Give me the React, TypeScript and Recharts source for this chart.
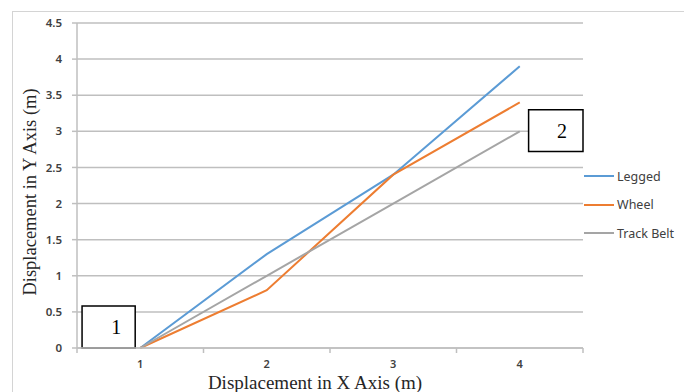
import React from 'react';
import { LineChart, Line, XAxis, YAxis, CartesianGrid, ReferenceArea } from 'recharts';

// values
const xValues = [1, 2, 3, 4];
const legged = [0, 1.3, 2.4, 3.9];
const wheel = [0, 0.8, 2.4, 3.4];
const trackBelt = [0, 1, 2, 3];
const yTicks = [0, 0.5, 1, 1.5, 2, 2.5, 3, 3.5, 4, 4.5];
// half steps are the category borders (tick marks), whole steps carry the labels
const xTicks = [0.5, 1, 1.5, 2, 2.5, 3, 3.5, 4, 4.5];

const series = [
  { key: 'legged', name: 'Legged', color: '#5b9bd5' },
  { key: 'wheel', name: 'Wheel', color: '#ed7d31' },
  { key: 'track', name: 'Track Belt', color: '#a5a5a5' },
];

const data = xValues.map((x, i) => ({
  x,
  legged: legged[i],
  wheel: wheel[i],
  track: trackBelt[i],
}));

const tickFont = '"Noto Sans", sans-serif';
const serif = '"Liberation Serif", "Times New Roman", serif';
const gridColor = '#bfbfbf';

const XTick = (props: any) => {
  const { x, y, payload } = props;
  if (Number.isInteger(payload.value)) {
    return (
      <text x={x} y={y + 15} textAnchor="middle" fontSize={11} fontFamily={tickFont} fill="#404040" fontWeight={600}>
        {payload.value}
      </text>
    );
  }
  return <line x1={x} x2={x} y1={y - 5} y2={y} stroke={gridColor} strokeWidth={1.5} />;
};

export default function App() {
  return (
    <div style={{ position: 'absolute', left: 0, top: 0, width: 684, height: 392, overflow: 'hidden', background: '#fff' }}>
      <div style={{ position: 'absolute', left: 12, top: 11, width: 700, height: 420, border: '1px solid #d4d4d4' }} />
      <LineChart width={684} height={392} data={data} margin={{ top: 23, right: 101, bottom: 24, left: 37 }}>
        <CartesianGrid horizontal vertical={false} stroke={gridColor} strokeWidth={1.5} />
        <XAxis
          dataKey="x"
          type="number"
          domain={[0.5, 4.5]}
          ticks={xTicks}
          interval={0}
          height={20}
          tickSize={5}
          tickMargin={0}
          tickLine={false}
          tick={<XTick />}
          axisLine={{ stroke: gridColor, strokeWidth: 1.5 }}
        />
        <YAxis
          type="number"
          domain={[0, 4.5]}
          ticks={yTicks}
          interval={0}
          width={40}
          tickSize={5}
          tickMargin={10}
          tickLine={{ stroke: gridColor, strokeWidth: 1.5 }}
          axisLine={{ stroke: gridColor, strokeWidth: 1.5 }}
          tick={{ fontSize: 11.5, fontFamily: tickFont, fill: '#404040', fontWeight: 600 }}
        />
        {series.map((s) => (
          <Line
            key={s.key}
            dataKey={s.key}
            name={s.name}
            stroke={s.color}
            strokeWidth={2}
            dot={false}
            isAnimationActive={false}
          />
        ))}
        <ReferenceArea
          x1={0.54}
          x2={0.96}
          y1={0}
          y2={0.58}
          fill="#fff"
          fillOpacity={1}
          stroke="#000"
          strokeWidth={1.5}
          ifOverflow="visible"
          label={{ value: '1', position: 'insideRight', offset: 14, fill: '#000', fontSize: 20, fontFamily: serif }}
        />
        <ReferenceArea
          x1={4.07}
          x2={4.5}
          y1={2.72}
          y2={3.3}
          fill="#fff"
          fillOpacity={1}
          stroke="#000"
          strokeWidth={1.5}
          ifOverflow="visible"
          label={{ value: '2', position: 'insideRight', offset: 16, fill: '#000', fontSize: 20, fontFamily: serif }}
        />
      </LineChart>

      {/* legend, drawn by hand so it does not eat into the plot area */}
      <div style={{ position: 'absolute', left: 584, top: 162, width: 100 }}>
        {series.map((s) => (
          <div key={s.key} style={{ height: 28.5, display: 'flex', alignItems: 'center' }}>
            <span style={{ display: 'inline-block', width: 30, height: 2, background: s.color }} />
            <span style={{ marginLeft: 3, fontSize: 12.5, fontFamily: tickFont, color: '#404040' }}>{s.name}</span>
          </div>
        ))}
      </div>

      <div
        style={{
          position: 'absolute',
          left: 315,
          top: 382,
          transform: 'translate(-50%, -50%)',
          whiteSpace: 'nowrap',
          fontFamily: serif,
          fontSize: 19,
          lineHeight: 1,
          color: '#262626',
        }}
      >
        Displacement in X Axis (m)
      </div>
      <div
        style={{
          position: 'absolute',
          left: 30,
          top: 192,
          transform: 'translate(-50%, -50%) rotate(-90deg)',
          whiteSpace: 'nowrap',
          fontFamily: serif,
          fontSize: 18.5,
          lineHeight: 1,
          color: '#262626',
        }}
      >
        Displacement in Y Axis (m)
      </div>
    </div>
  );
}
